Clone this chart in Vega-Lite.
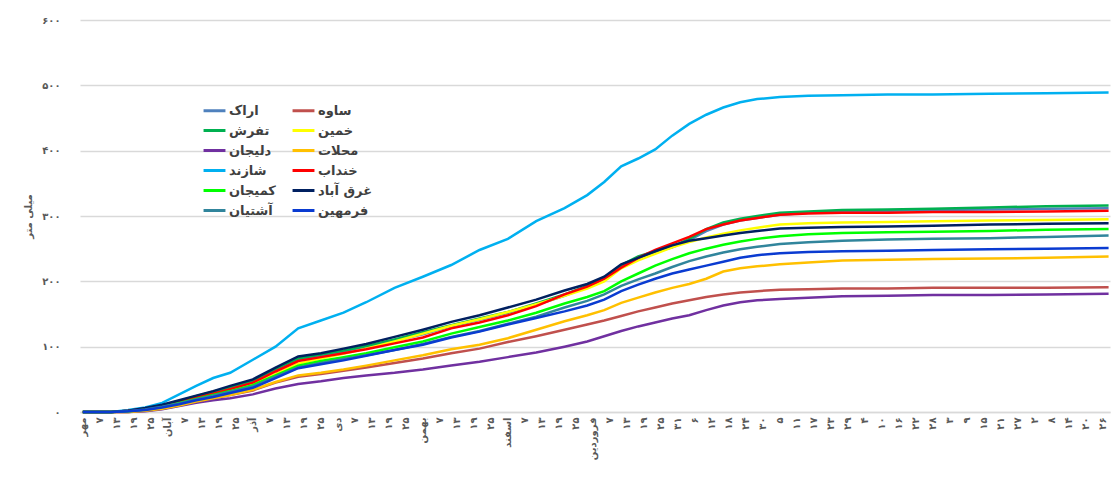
{
  "$schema": "https://vega.github.io/schema/vega-lite/v6.json",
  "width": 1030,
  "height": 392,
  "autosize": {"type": "none"},
  "padding": {"left": 80, "top": 20, "right": 5, "bottom": 81},
  "background": "white",
  "config": {"view": {"stroke": null}, "font": "DejaVu Sans"},
  "data": {"values": [
    {"d":0,"اراک":0,"ساوه":0,"تفرش":0,"خمین":0,"دلیجان":0,"محلات":0,"شازند":0,"خنداب":0,"کمیجان":0,"غرق آباد":0,"آشتیان":0,"فرمهین":0},
    {"d":10,"اراک":0,"ساوه":0,"تفرش":0,"خمین":0,"دلیجان":0,"محلات":0,"شازند":0,"خنداب":0,"کمیجان":0,"غرق آباد":0,"آشتیان":0,"فرمهین":0},
    {"d":16,"اراک":2,"ساوه":0,"تفرش":2,"خمین":1,"دلیجان":0,"محلات":0,"شازند":3,"خنداب":2,"کمیجان":1,"غرق آباد":2,"آشتیان":1,"فرمهین":1},
    {"d":22,"اراک":5,"ساوه":2,"تفرش":5,"خمین":4,"دلیجان":1,"محلات":2,"شازند":7,"خنداب":5,"کمیجان":4,"غرق آباد":6,"آشتیان":4,"فرمهین":3},
    {"d":28,"اراک":10,"ساوه":5,"تفرش":10,"خمین":8,"دلیجان":4,"محلات":5,"شازند":14,"خنداب":9,"کمیجان":8,"غرق آباد":11,"آشتیان":8,"فرمهین":7},
    {"d":34,"اراک":16,"ساوه":10,"تفرش":17,"خمین":14,"دلیجان":9,"محلات":10,"شازند":27,"خنداب":16,"کمیجان":14,"غرق آباد":18,"آشتیان":13,"فرمهین":12},
    {"d":40,"اراک":23,"ساوه":16,"تفرش":24,"خمین":20,"دلیجان":14,"محلات":16,"شازند":40,"خنداب":22,"کمیجان":20,"غرق آباد":25,"آشتیان":19,"فرمهین":18},
    {"d":46,"اراک":30,"ساوه":21,"تفرش":31,"خمین":26,"دلیجان":18,"محلات":21,"شازند":52,"خنداب":28,"کمیجان":26,"غرق آباد":32,"آشتیان":25,"فرمهین":23},
    {"d":52,"اراک":37,"ساوه":26,"تفرش":38,"خمین":33,"دلیجان":21,"محلات":26,"شازند":60,"خنداب":35,"کمیجان":32,"غرق آباد":40,"آشتیان":31,"فرمهین":29},
    {"d":60,"اراک":47,"ساوه":33,"تفرش":48,"خمین":42,"دلیجان":27,"محلات":34,"شازند":80,"خنداب":45,"کمیجان":41,"غرق آباد":50,"آشتیان":39,"فرمهین":37},
    {"d":68,"اراک":64,"ساوه":45,"تفرش":66,"خمین":58,"دلیجان":36,"محلات":46,"شازند":100,"خنداب":62,"کمیجان":56,"غرق آباد":68,"آشتیان":54,"فرمهین":52},
    {"d":76,"اراک":80,"ساوه":54,"تفرش":82,"خمین":74,"دلیجان":43,"محلات":56,"شازند":128,"خنداب":78,"کمیجان":71,"غرق آباد":85,"آشتیان":68,"فرمهین":67},
    {"d":84,"اراک":86,"ساوه":58,"تفرش":88,"خمین":82,"دلیجان":47,"محلات":60,"شازند":140,"خنداب":84,"کمیجان":78,"غرق آباد":90,"آشتیان":75,"فرمهین":73},
    {"d":92,"اراک":92,"ساوه":63,"تفرش":94,"خمین":89,"دلیجان":52,"محلات":65,"شازند":152,"خنداب":90,"کمیجان":84,"غرق آباد":97,"آشتیان":81,"فرمهین":79},
    {"d":100,"اراک":99,"ساوه":68,"تفرش":101,"خمین":97,"دلیجان":56,"محلات":71,"شازند":168,"خنداب":96,"کمیجان":90,"غرق آباد":104,"آشتیان":87,"فرمهین":86},
    {"d":110,"اراک":109,"ساوه":75,"تفرش":111,"خمین":108,"دلیجان":60,"محلات":79,"شازند":190,"خنداب":105,"کمیجان":99,"غرق آباد":115,"آشتیان":95,"فرمهین":95},
    {"d":120,"اراک":119,"ساوه":82,"تفرش":122,"خمین":120,"دلیجان":65,"محلات":87,"شازند":207,"خنداب":114,"کمیجان":108,"غرق آباد":126,"آشتیان":104,"فرمهین":103},
    {"d":130,"اراک":131,"ساوه":90,"تفرش":133,"خمین":132,"دلیجان":71,"محلات":96,"شازند":225,"خنداب":128,"کمیجان":120,"غرق آباد":138,"آشتیان":115,"فرمهین":114},
    {"d":140,"اراک":141,"ساوه":97,"تفرش":143,"خمین":142,"دلیجان":77,"محلات":103,"شازند":248,"خنداب":137,"کمیجان":130,"غرق آباد":148,"آشتیان":124,"فرمهین":123},
    {"d":150,"اراک":152,"ساوه":107,"تفرش":153,"خمین":153,"دلیجان":84,"محلات":113,"شازند":265,"خنداب":148,"کمیجان":140,"غرق آباد":160,"آشتیان":135,"فرمهین":134},
    {"d":160,"اراک":164,"ساوه":116,"تفرش":166,"خمین":165,"دلیجان":91,"محلات":126,"شازند":292,"خنداب":162,"کمیجان":152,"غرق آباد":172,"آشتیان":146,"فرمهین":144},
    {"d":170,"اراک":178,"ساوه":126,"تفرش":180,"خمین":178,"دلیجان":100,"محلات":139,"شازند":312,"خنداب":180,"کمیجان":166,"غرق آباد":186,"آشتیان":160,"فرمهین":154},
    {"d":178,"اراک":191,"ساوه":134,"تفرش":193,"خمین":189,"دلیجان":108,"محلات":148,"شازند":332,"خنداب":192,"کمیجان":176,"غرق آباد":196,"آشتیان":170,"فرمهین":163},
    {"d":184,"اراک":204,"ساوه":140,"تفرش":206,"خمین":200,"دلیجان":116,"محلات":156,"شازند":352,"خنداب":204,"کمیجان":185,"غرق آباد":207,"آشتیان":180,"فرمهین":172},
    {"d":190,"اراک":223,"ساوه":147,"تفرش":225,"خمین":220,"دلیجان":124,"محلات":167,"شازند":376,"خنداب":221,"کمیجان":200,"غرق آباد":226,"آشتیان":193,"فرمهین":185},
    {"d":196,"اراک":236,"ساوه":154,"تفرش":238,"خمین":232,"دلیجان":131,"محلات":175,"شازند":388,"خنداب":236,"کمیجان":212,"غرق آباد":236,"آشتیان":203,"فرمهین":195},
    {"d":202,"اراک":245,"ساوه":160,"تفرش":246,"خمین":242,"دلیجان":137,"محلات":183,"شازند":402,"خنداب":248,"کمیجان":224,"غرق آباد":246,"آشتیان":212,"فرمهین":204},
    {"d":208,"اراک":252,"ساوه":166,"تفرش":253,"خمین":252,"دلیجان":143,"محلات":190,"شازند":423,"خنداب":258,"کمیجان":234,"غرق آباد":255,"آشتیان":222,"فرمهین":212},
    {"d":214,"اراک":263,"ساوه":171,"تفرش":265,"خمین":260,"دلیجان":148,"محلات":196,"شازند":441,"خنداب":268,"کمیجان":243,"غرق آباد":262,"آشتیان":231,"فرمهین":218},
    {"d":220,"اراک":277,"ساوه":176,"تفرش":280,"خمین":267,"دلیجان":156,"محلات":204,"شازند":455,"خنداب":280,"کمیجان":250,"غرق آباد":266,"آشتیان":238,"فرمهین":224},
    {"d":226,"اراک":287,"ساوه":180,"تفرش":290,"خمین":273,"دلیجان":163,"محلات":215,"شازند":466,"خنداب":287,"کمیجان":256,"غرق آباد":270,"آشتیان":244,"فرمهین":230},
    {"d":232,"اراک":293,"ساوه":183,"تفرش":296,"خمین":278,"دلیجان":168,"محلات":220,"شازند":474,"خنداب":293,"کمیجان":261,"غرق آباد":274,"آشتیان":249,"فرمهین":236},
    {"d":238,"اراک":297,"ساوه":185,"تفرش":300,"خمین":282,"دلیجان":171,"محلات":223,"شازند":479,"خنداب":297,"کمیجان":265,"غرق آباد":277,"آشتیان":253,"فرمهین":240},
    {"d":246,"اراک":302,"ساوه":187,"تفرش":305,"خمین":287,"دلیجان":173,"محلات":226,"شازند":482,"خنداب":302,"کمیجان":269,"غرق آباد":281,"آشتیان":257,"فرمهین":243},
    {"d":256,"اراک":305,"ساوه":188,"تفرش":307,"خمین":289,"دلیجان":175,"محلات":229,"شازند":484,"خنداب":304,"کمیجان":272,"غرق آباد":282,"آشتیان":260,"فرمهین":245},
    {"d":268,"اراک":307,"ساوه":189,"تفرش":309,"خمین":290,"دلیجان":177,"محلات":232,"شازند":485,"خنداب":305,"کمیجان":274,"غرق آباد":283,"آشتیان":262,"فرمهین":246},
    {"d":284,"اراک":308,"ساوه":189,"تفرش":310,"خمین":291,"دلیجان":178,"محلات":233,"شازند":486,"خنداب":305,"کمیجان":275,"غرق آباد":284,"آشتیان":264,"فرمهین":247},
    {"d":300,"اراک":309,"ساوه":190,"تفرش":311,"خمین":292,"دلیجان":179,"محلات":234,"شازند":486,"خنداب":306,"کمیجان":276,"غرق آباد":285,"آشتیان":265,"فرمهین":248},
    {"d":320,"اراک":310,"ساوه":190,"تفرش":313,"خمین":293,"دلیجان":179,"محلات":235,"شازند":487,"خنداب":306,"کمیجان":277,"غرق آباد":287,"آشتیان":266,"فرمهین":249},
    {"d":340,"اراک":311,"ساوه":190,"تفرش":315,"خمین":294,"دلیجان":180,"محلات":236,"شازند":488,"خنداب":307,"کمیجان":279,"غرق آباد":288,"آشتیان":268,"فرمهین":250},
    {"d":362,"اراک":312,"ساوه":191,"تفرش":316,"خمین":295,"دلیجان":181,"محلات":238,"شازند":489,"خنداب":308,"کمیجان":280,"غرق آباد":289,"آشتیان":270,"فرمهین":251}
  ]},
  "transform": [
    {"fold": ["اراک","ساوه","تفرش","خمین","دلیجان","محلات","شازند","خنداب","کمیجان","غرق آباد","آشتیان","فرمهین"], "as": ["station","mm"]}
  ],
  "mark": {"type": "line", "strokeWidth": 2.5, "interpolate": "linear"},
  "encoding": {
    "x": {
      "field": "d", "type": "quantitative",
      "scale": {"domain": [-1, 362.5], "nice": false, "zero": false},
      "axis": {
        "title": null,
        "values": [0,6,12,18,24,30,36,42,48,54,60,66,72,78,84,90,96,102,108,114,120,126,132,138,144,150,156,162,168,174,180,186,192,198,204,210,216,222,228,234,240,246,252,258,264,270,276,282,288,294,300,306,312,318,324,330,336,342,348,354,360],
        "labelExpr": "['مهر','۷','۱۳','۱۹','۲۵','آبان','۷','۱۳','۱۹','۲۵','آذر','۷','۱۳','۱۹','۲۵','دی','۷','۱۳','۱۹','۲۵','بهمن','۷','۱۳','۱۹','۲۵','اسفند','۷','۱۳','۱۹','۲۵','فروردین','۷','۱۳','۱۹','۲۵','۳۱','۶','۱۲','۱۸','۲۴','۳۰','۵','۱۱','۱۷','۲۳','۲۹','۴','۱۰','۱۶','۲۲','۲۸','۳','۹','۱۵','۲۱','۲۷','۲','۸','۱۴','۲۰','۲۶'][round(datum.value/6)]",
        "labelAngle": 270,
        "labelFontSize": 10,
        "labelFontWeight": "bold",
        "labelColor": "#595959",
        "labelPadding": 5,
        "labelOverlap": false,
        "labelBound": false,
        "labelFlush": false,
        "ticks": false,
        "grid": false,
        "domainColor": "#D9D9D9",
        "domainWidth": 1.3
      }
    },
    "y": {
      "field": "mm", "type": "quantitative",
      "scale": {"domain": [0, 600], "nice": false},
      "axis": {
        "title": "میلی متر",
        "values": [0,100,200,300,400,500,600],
        "labelExpr": "['۰','۱۰۰','۲۰۰','۳۰۰','۴۰۰','۵۰۰','۶۰۰'][round(datum.value/100)]",
        "labelFontSize": 10,
        "labelFontWeight": "bold",
        "labelColor": "#595959",
        "labelPadding": 20,
        "ticks": false,
        "domain": false,
        "gridColor": "#D9D9D9",
        "gridWidth": 1.3,
        "titleFontSize": 10,
        "titleFontWeight": "bold",
        "titleColor": "#595959",
        "titlePadding": 8
      }
    },
    "color": {
      "field": "station", "type": "nominal",
      "scale": {
        "domain": ["اراک","ساوه","تفرش","خمین","دلیجان","محلات","شازند","خنداب","کمیجان","غرق آباد","آشتیان","فرمهین"],
        "range": ["#4F81BD","#C0504D","#00B050","#FFFF00","#7030A0","#FFC000","#00B0F0","#FF0000","#00FF00","#002060","#31859C","#0A3BD1"]
      },
      "legend": {
        "title": null,
        "orient": "none",
        "direction": "horizontal",
        "legendX": 122,
        "legendY": 78,
        "columns": 2,
        "gridAlign": "each",
        "symbolType": "stroke",
        "symbolStrokeWidth": 3,
        "symbolSize": 480,
        "labelFontSize": 13,
        "labelFontWeight": "bold",
        "labelColor": "#404040",
        "labelFont": "DejaVu Sans",
        "labelOffset": 2,
        "rowPadding": 0,
        "columnPadding": 10
      }
    }
  }
}
